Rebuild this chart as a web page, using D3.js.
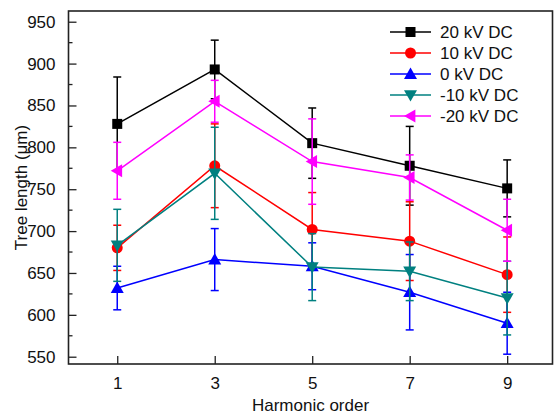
<!DOCTYPE html>
<html>
<head>
<meta charset="utf-8">
<script src="https://cdn.jsdelivr.net/npm/d3@7"></script>
<style>
  body { margin: 0; background: #fff; }
  svg { display: block; font-family: "Liberation Sans", Arial, sans-serif; }
</style>
</head>
<body>
<script>
// harmonic order on the x axis
const harmonics = [1, 3, 5, 7, 9];
const seriesNames = ["20 kV DC", "10 kV DC", "0 kV DC", "-10 kV DC", "-20 kV DC"];

// mean tree length (µm) and error, one array per DC bias
const dc20 = [828, 893, 805, 778, 751];
const dc20Err = [56, 35, 42, 47, 34];
const dc10 = [680, 778, 702, 688, 648];
const dc10Err = [27, 50, 44, 47, 45];
const dc0 = [632, 666, 658, 627, 590];
const dc0Err = [26, 37, 28, 45, 37];
const dcm10 = [683, 769, 657, 652, 620];
const dcm10Err = [43, 55, 40, 35, 44];
const dcm20 = [772, 855, 783, 764, 701];
const dcm20Err = [34, 25, 51, 27, 37];

const yTicks = [550, 600, 650, 700, 750, 800, 850, 900, 950];

const w = 554, h = 415;
const mLeft = 68.5, mRight = 552.5, mTop = 11, mBottom = 364;
const fontSize = 17;

const colors = ["#000000", "#ff0000", "#0000ff", "#008080", "#ff00ff"];
const shapes = ["square", "circle", "up", "down", "left"];

const series = seriesNames.map((name, i) => ({
  name: name,
  color: colors[i],
  shape: shapes[i],
  values: [dc20, dc10, dc0, dcm10, dcm20][i],
  errors: [dc20Err, dc10Err, dc0Err, dcm10Err, dcm20Err][i]
}));

const x = d3.scaleLinear().domain([0, 9.93]).range([mLeft, mRight]);
const y = d3.scaleLinear().domain([541.3, 962.8]).range([mBottom, mTop]);

const svg = d3.select("body")
  .append("svg")
  .attr("width", w)
  .attr("height", h);

const drawMarker = (g, shape, cx, cy, color) => {
  if (shape === "square") {
    g.append("rect")
      .attr("x", cx - 5).attr("y", cy - 5)
      .attr("width", 10).attr("height", 10)
      .attr("fill", color);
  } else if (shape === "circle") {
    g.append("circle")
      .attr("cx", cx).attr("cy", cy).attr("r", 5.5)
      .attr("fill", color);
  } else {
    const s = 6.5;
    let pts;
    if (shape === "up") pts = [[cx, cy - s], [cx - s, cy + s * 0.75], [cx + s, cy + s * 0.75]];
    if (shape === "down") pts = [[cx, cy + s], [cx - s, cy - s * 0.75], [cx + s, cy - s * 0.75]];
    if (shape === "left") pts = [[cx - s, cy], [cx + s * 0.75, cy - s], [cx + s * 0.75, cy + s]];
    g.append("polygon")
      .attr("points", pts.map(p => p.join(",")).join(" "))
      .attr("fill", color);
  }
};

const createAxes = () => {
  const yAxis = d3.axisLeft(y)
    .tickValues(yTicks)
    .tickSizeInner(-8)
    .tickSizeOuter(0)
    .tickPadding(13);

  const gy = svg.append("g")
    .attr("transform", `translate(${mLeft},0)`)
    .call(yAxis);
  gy.select(".domain").remove();
  gy.selectAll("line").attr("stroke", "#222").attr("stroke-width", 1.3);
  gy.selectAll("text")
    .attr("fill", "#111")
    .style("font-size", fontSize + "px")
    .attr("font-family", null);

  // minor y ticks
  svg.append("g")
    .selectAll("line")
    .data(d3.range(575, 951, 50))
    .join("line")
    .attr("x1", mLeft).attr("x2", mLeft + 4)
    .attr("y1", d => y(d)).attr("y2", d => y(d))
    .attr("stroke", "#222").attr("stroke-width", 1.3);

  const xAxis = d3.axisBottom(x)
    .tickValues(harmonics)
    .tickSizeInner(-8)
    .tickSizeOuter(0)
    .tickPadding(13);

  const gx = svg.append("g")
    .attr("transform", `translate(0,${mBottom})`)
    .call(xAxis);
  gx.select(".domain").remove();
  gx.selectAll("line").attr("stroke", "#222").attr("stroke-width", 1.3);
  gx.selectAll("text")
    .attr("fill", "#111")
    .style("font-size", fontSize + "px")
    .attr("font-family", null);

  // frame
  svg.append("rect")
    .attr("x", mLeft).attr("y", mTop)
    .attr("width", mRight - mLeft).attr("height", mBottom - mTop)
    .attr("fill", "none")
    .attr("stroke", "#222")
    .attr("stroke-width", 1.6);

  svg.append("text")
    .attr("x", (mLeft + mRight) / 2)
    .attr("y", 411)
    .attr("text-anchor", "middle")
    .style("font-size", fontSize + "px")
    .attr("fill", "#111")
    .text("Harmonic order");

  svg.append("text")
    .attr("transform", `translate(27,${(mTop + mBottom) / 2}) rotate(-90)`)
    .attr("text-anchor", "middle")
    .style("font-size", fontSize + "px")
    .attr("fill", "#111")
    .text("Tree length (μm)");
};

const createSeries = () => {
  series.forEach(s => {
    const g = svg.append("g");
    const pts = harmonics.map((hx, i) => ({ hx: hx, v: s.values[i], e: s.errors[i] }));

    g.append("path")
      .datum(pts)
      .attr("fill", "none")
      .attr("stroke", s.color)
      .attr("stroke-width", 1.5)
      .attr("d", d3.line().x(d => x(d.hx)).y(d => y(d.v)));

    pts.forEach(d => {
      const cx = x(d.hx);
      g.append("line")
        .attr("x1", cx).attr("x2", cx)
        .attr("y1", y(d.v - d.e)).attr("y2", y(d.v + d.e))
        .attr("stroke", s.color).attr("stroke-width", 1.5);
      [d.v - d.e, d.v + d.e].forEach(v => {
        g.append("line")
          .attr("x1", cx - 4).attr("x2", cx + 4)
          .attr("y1", y(v)).attr("y2", y(v))
          .attr("stroke", s.color).attr("stroke-width", 1.5);
      });
      drawMarker(g, s.shape, cx, y(d.v), s.color);
    });
  });
};

const createLegend = () => {
  const legend = svg.append("g");
  series.forEach((s, i) => {
    const ly = 32 + i * 21;
    legend.append("line")
      .attr("x1", 390).attr("x2", 431)
      .attr("y1", ly).attr("y2", ly)
      .attr("stroke", s.color).attr("stroke-width", 1.5);
    drawMarker(legend, s.shape, 410.5, ly, s.color);
    legend.append("text")
      .attr("x", 440)
      .attr("y", ly + 6)
      .style("font-size", fontSize + "px")
      .attr("fill", "#111")
      .text(s.name);
  });
};

createAxes();
createSeries();
createLegend();
</script>
</body>
</html>
